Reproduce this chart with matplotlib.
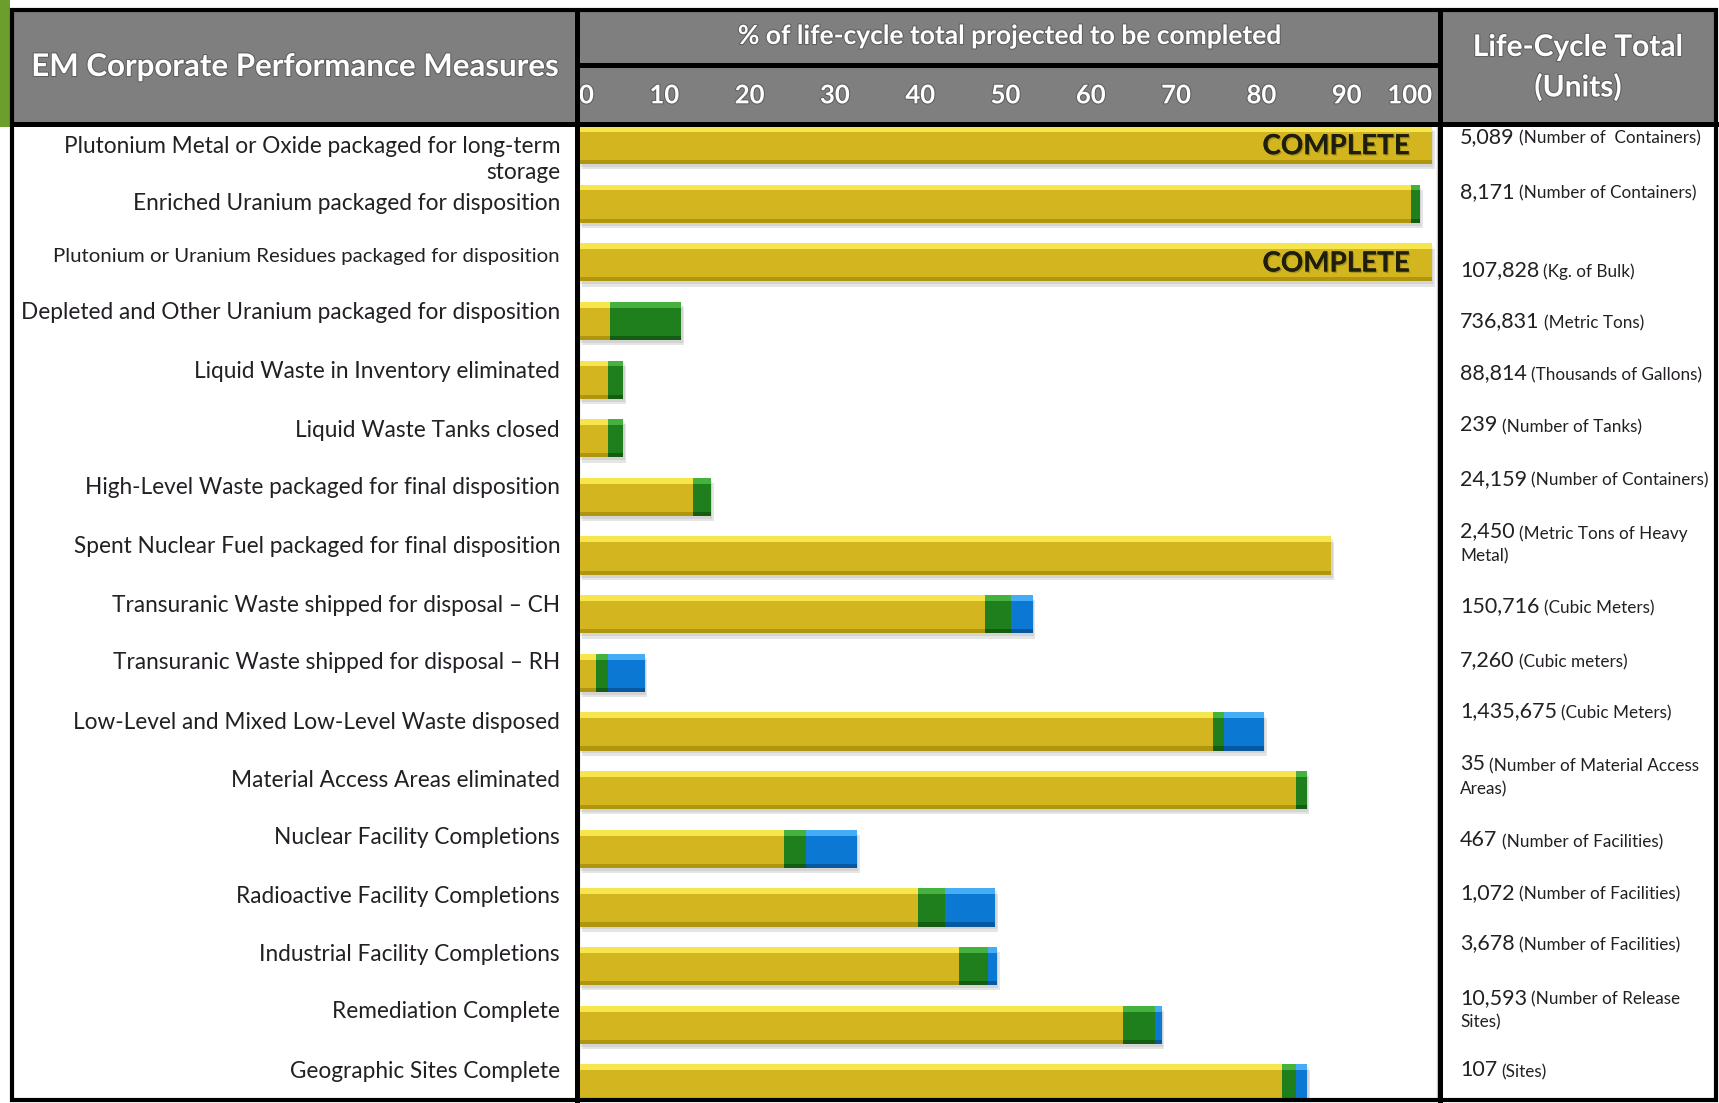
import matplotlib
matplotlib.use('Agg')
import numpy as np
import matplotlib.pyplot as plt
import matplotlib.patheffects as pe
from matplotlib.transforms import blended_transform_factory

plt.rcParams['font.family'] = ['Lato', 'DejaVu Sans']

# --- dados ---
measures = [
    "Plutonium Metal or Oxide packaged for long-term\nstorage",
    "Enriched Uranium packaged for disposition",
    "Plutonium or Uranium Residues packaged for disposition",
    "Depleted and Other Uranium packaged for disposition",
    "Liquid Waste in Inventory eliminated",
    "Liquid Waste Tanks closed",
    "High-Level Waste packaged for final disposition",
    "Spent Nuclear Fuel packaged for final disposition",
    "Transuranic Waste shipped for disposal \u2013 CH",
    "Transuranic Waste shipped for disposal \u2013 RH",
    "Low-Level and Mixed Low-Level Waste disposed",
    "Material Access Areas eliminated",
    "Nuclear Facility Completions",
    "Radioactive Facility Completions",
    "Industrial Facility Completions",
    "Remediation Complete",
    "Geographic Sites Complete",
]
yellow = [100, 97.5, 100, 3.6, 3.4, 3.4, 13.4, 88.2, 47.6, 2.0, 74.3, 84.1, 24.0, 39.8, 44.6, 63.8, 82.4]
green = [0, 1.1, 0, 8.4, 1.8, 1.8, 2.1, 0, 3.1, 1.4, 1.3, 1.2, 2.6, 3.1, 3.3, 3.7, 1.7]
blue = [0, 0, 0, 0, 0, 0, 0, 0, 2.5, 4.3, 4.7, 0, 6.0, 5.9, 1.1, 0.8, 1.3]
complete = [True, False, True] + [False] * 14

totals = ["5,089", "8,171", "107,828", "736,831", "88,814", "239", "24,159", "2,450",
          "150,716", "7,260", "1,435,675", "35", "467", "1,072", "3,678", "10,593", "107"]
units = ["(Number of  Containers)", "(Number of Containers)", "(Kg. of Bulk)", "(Metric Tons)",
         "(Thousands of Gallons)", "(Number of Tanks)", "(Number of Containers)",
         "(Metric Tons of Heavy", "(Cubic Meters)", "(Cubic meters)", "(Cubic Meters)",
         "(Number of Material Access", "(Number of Facilities)", "(Number of Facilities)",
         "(Number of Facilities)", "(Number of Release", "(Sites)"]
units_cont = ["", "", "", "", "", "", "", "Metal)", "", "", "", "Areas)", "", "", "", "Sites)", ""]

tick_vals = [0, 10, 20, 30, 40, 50, 60, 70, 80, 90, 100]
tick_labels = [str(v) for v in tick_vals]
grid_vals = [20, 40, 60, 80]

# --- layout (pixels) ---
W, H = 1719, 1103
ROW0, STEP = 145, 58.65
PX_UNIT = 8.53
CH_L, CH_R = 579, 1437
TOP, HEAD_B, BOT = 10, 124, 1100
label_dy = [0.24, 0.0, -0.1, -0.14, -0.14, -0.14, -0.155, -0.15, -0.15, -0.18,
            -0.15, -0.17, -0.2, -0.18, -0.19, -0.22, -0.2]
unit_dy = [-0.14, -0.2, 0.13, 0.0, -0.11, -0.22, -0.31, -0.41, -0.14, -0.22,
           -0.34, -0.44, -0.15, -0.25, -0.39, -0.46, -0.22]

GRAY = '#7f7f7f'
TXT = '#231f24'
cols = {
    'y': ('#d3b51f', '#f6e54c', '#b0950e'),
    'g': ('#1f7f1c', '#45b23f', '#145c12'),
    'b': ('#0b79d3', '#45acf5', '#0659a0'),
}

fig = plt.figure(figsize=(W / 100, H / 100), dpi=100)
fig.patch.set_facecolor('white')

# fundo / cabecalho em coordenadas de pixel
fr = fig.add_axes([0, 0, 1, 1], zorder=0)
fr.set_xlim(0, W)
fr.set_ylim(H, 0)
fr.axis('off')
fr.add_patch(plt.Rectangle((0, 0), 10, 127, color='#6b9e2a', lw=0))
fr.add_patch(plt.Rectangle((12, TOP), 1704, HEAD_B - TOP, color=GRAY, lw=0))

head_fx = [pe.withStroke(linewidth=1.5, foreground='#5e5e5e')]
fr.text(295, 67, "EM Corporate Performance Measures", ha='center', va='center',
        color='white', fontsize=22.5, fontweight='bold', path_effects=head_fx)
fr.text(1009, 36, "% of life-cycle total projected to be completed", ha='center', va='center',
        color='white', fontsize=19, fontweight='bold', path_effects=head_fx)
fr.text(1578, 47, "Life-Cycle Total", ha='center', va='center',
        color='white', fontsize=21.5, fontweight='bold', path_effects=head_fx)
fr.text(1578, 87, "(Units)", ha='center', va='center',
        color='white', fontsize=21.5, fontweight='bold', path_effects=head_fx)

# eixo das barras
ax = fig.add_axes([CH_L / W, 1 - BOT / H, (CH_R - CH_L) / W, (BOT - HEAD_B) / H], zorder=1)
ax.set_xlim(0, (CH_R - CH_L) / PX_UNIT)
ax.set_ylim((BOT - ROW0) / STEP, -(ROW0 - HEAD_B) / STEP)
ax.set_facecolor('white')

y = np.arange(len(measures))
h = 0.65
yel = np.array(yellow)
grn = np.array(green)
blu = np.array(blue)
tot = yel + grn + blu

# sombra
ax.barh(y + 0.09, tot, left=0.3, height=h, color='black', alpha=0.10, lw=0, zorder=2)
ax.barh(y + 0.05, tot, left=0.15, height=h, color='black', alpha=0.08, lw=0, zorder=2)

lefts = [np.zeros(len(y)), yel, yel + grn]
for vals, left, key in zip([yel, grn, blu], lefts, ['y', 'g', 'b']):
    main, light, dark = cols[key]
    ax.barh(y, vals, left=left, height=h, color=main, lw=0, zorder=3)
    ax.barh(y - h / 2 + 0.05, vals, left=left, height=0.1, color=light, lw=0, zorder=4)
    ax.barh(y + h / 2 - 0.035, vals, left=left, height=0.07, color=dark, lw=0, zorder=4)

for i in y:
    if complete[i]:
        ax.text(yellow[i] - 2.6, i + 0.02, "COMPLETE", ha='right', va='center',
                fontsize=20, fontweight='bold', color='#1e1e0a', zorder=5,
                path_effects=[pe.withSimplePatchShadow(offset=(1, -1), shadow_rgbFace='#8a7a10', alpha=0.6),
                              pe.Normal()])

ax.xaxis.tick_top()
ax.set_xticks(tick_vals)
ax.set_xticklabels(tick_labels, color='white', fontsize=18.5, fontweight='bold')
ax.set_xticks(grid_vals, minor=True)
ax.tick_params(axis='x', which='both', length=0, pad=12)
lbls = ax.get_xticklabels()
lbls[0].set_ha('left')
lbls[-1].set_ha('right')
for lb in lbls:
    lb.set_path_effects(head_fx)
ax.grid(which='minor', axis='x', color='#9c9c9c', lw=1.3, zorder=1)
ax.grid(which='major', visible=False)
ax.set_axisbelow(True)
ax.set_yticks([])
for s in ax.spines.values():
    s.set_color('#c4c4c4')
    s.set_linewidth(1.0)

# textos das colunas laterais
tr = blended_transform_factory(fr.transData, ax.transData)
for i in y:
    fs = 14.7 if i == 2 else 16.3
    fr.text(560, i + label_dy[i], measures[i], transform=tr, ha='right', va='center',
            fontsize=fs, color=TXT, linespacing=1.3)
    t = fr.text(1460, i + unit_dy[i], totals[i], transform=tr, ha='left', va='center',
                fontsize=15.5, color=TXT)
    fr.annotate(units[i], xy=(1, 0), xycoords=t, xytext=(3, 0), textcoords='offset points',
                ha='left', va='bottom', fontsize=12.3, color=TXT)
    if units_cont[i]:
        fr.text(1460, i + unit_dy[i] + 25 / STEP, units_cont[i], transform=tr, ha='left',
                va='center', fontsize=12.3, color=TXT)

# bordas pretas por cima
ov = fig.add_axes([0, 0, 1, 1], zorder=2)
ov.set_xlim(0, W)
ov.set_ylim(H, 0)
ov.axis('off')
ov.patch.set_alpha(0)
ov.add_patch(plt.Rectangle((12, TOP), 1704, BOT - TOP, fill=False, ec='black', lw=3))
ov.plot([577, 577], [TOP, BOT], color='black', lw=3.6)
ov.plot([1440, 1440], [TOP, BOT], color='black', lw=3.6)
ov.plot([12, 1716], [HEAD_B, HEAD_B], color='black', lw=3.6)
ov.plot([577, 1440], [65, 65], color='black', lw=3.6)

plt.savefig('out.png', dpi=100)
